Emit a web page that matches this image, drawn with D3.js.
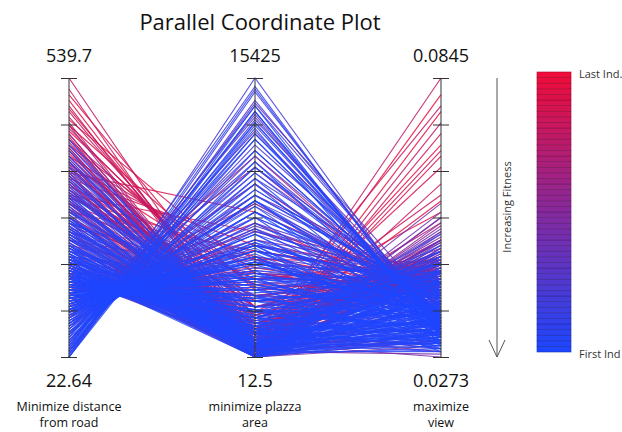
<!DOCTYPE html>
<html><head><meta charset="utf-8">
<script src="https://cdn.jsdelivr.net/npm/d3@7"></script>
<style>body{margin:0;background:#fff}svg{display:block}text{font-family:"Open Sans","Noto Sans",sans-serif}</style>
</head><body>
<script>
// ---- data (one entry per individual, first -> last) ----
const distance = [
105.3,115.7,110.5,120.8,126.0,131.2,126.0,136.3,141.5,136.3,
146.7,151.9,146.7,157.0,162.2,157.0,167.4,172.5,167.4,177.7,
182.9,177.7,188.0,193.2,198.4,203.6,208.7,213.9,219.1,229.4,
110.5,115.7,120.8,131.2,141.5,151.9,162.2,172.5,182.9,193.2,
22.6,27.8,22.6,33.0,33.0,38.1,43.3,43.3,48.5,53.6,
53.6,58.8,64.0,64.0,69.1,69.1,74.3,79.5,79.5,84.6,
84.6,89.8,89.8,95.0,100.2,100.2,105.3,105.3,110.5,110.5,
115.7,115.7,120.8,120.8,126.0,126.0,131.2,131.2,136.3,136.3,
141.5,141.5,146.7,146.7,151.9,151.9,157.0,157.0,162.2,162.2,
167.4,167.4,172.5,172.5,177.7,177.7,182.9,182.9,188.0,188.0,
193.2,198.4,198.4,203.6,208.7,208.7,213.9,219.1,224.2,229.4,
234.6,239.7,244.9,250.1,255.3,260.4,265.6,270.8,275.9,281.1,
291.4,301.8,312.1,322.5,332.8,343.1,353.5,363.8,374.2,384.5,
394.8,405.2,415.5,425.9,177.7,167.4,157.0,146.7,136.3,126.0,
115.7,105.3,95.0,84.6,193.2,203.6,213.9,229.4,244.9,260.4,
275.9,291.4,307.0,322.5,182.9,162.2,151.9,141.5,131.2,120.8,
198.4,219.1,239.7,255.3,270.8,208.7,172.5,224.2,250.1,281.1,
234.6,265.6,296.6,219.1,250.1,203.6,317.3,188.0,332.8,162.2,
188.0,198.4,208.7,219.1,229.4,239.7,250.1,260.4,270.8,281.1,
193.2,203.6,213.9,224.2,234.6,244.9,255.3,265.6,275.9,286.3,
296.6,307.0,317.3,327.6,338.0,348.3,358.7,369.0,379.3,389.7,
22.6,22.6,27.8,22.6,33.0,27.8,38.1,43.3,48.5,53.6,
38.1,58.8,64.0,69.1,74.3,74.3,79.5,84.6,89.8,95.0,
95.0,100.2,105.3,110.5,110.5,115.7,120.8,126.0,126.0,131.2,
136.3,136.3,141.5,146.7,146.7,151.9,151.9,157.0,157.0,162.2,
162.2,167.4,167.4,172.5,172.5,177.7,177.7,182.9,182.9,188.0,
188.0,193.2,193.2,198.4,203.6,208.7,213.9,219.1,224.2,229.4,
33.0,48.5,64.0,79.5,100.2,115.7,131.2,141.5,157.0,167.4,
177.7,193.2,203.6,213.9,
84.6,120.8,146.7,162.2,188.0,224.2,250.1,270.8,301.8,317.3,338.0,353.5,
198.4,229.4,255.3,182.9,281.1,172.5,239.7,208.7,
234.6,239.7,244.9,250.1,255.3,260.4,265.6,270.8,281.1,286.3,
291.4,296.6,307.0,312.1,322.5,327.6,332.8,343.1,348.3,358.7,
363.8,374.2,384.5,394.8,405.2,410.4,436.2,425.9,451.7,415.5,
126.0,203.6,255.3,167.4,307.0,229.4,105.3,332.8,151.9,270.8,
193.2,358.7,136.3,291.4,219.1,384.5,177.7,250.1,322.5,115.7,
157.0,343.1,208.7,281.1,239.7,374.2,95.0,307.0,188.0,394.8,
260.4,146.7,317.3,229.4,363.8,172.5,296.6,410.4,198.4,338.0,
539.7,518.9,487.9,477.6,467.2,456.9,446.5,436.2,425.9,420.7,
415.5,405.2,394.8,384.5,374.2,369.0,363.8,353.5,348.3,343.1,
332.8,322.5,312.1,307.0,301.8,291.4,281.1,462.1,482.7,498.2,
508.6,451.7,431.0,400.0,379.3,358.7,327.6,317.3,441.4,389.7
];
const plazaArea = [
6177,5868,5560,5406,5098,4790,4636,4327,4173,3865,
3711,3403,3249,3095,2786,2632,2324,2170,1862,1708,
1553,1245,1091,937,783,629,1245,475,937,629,
6793,6330,6022,5252,4481,4019,3249,2478,2016,1399,
13881,14806,12956,13573,12340,12648,12956,11416,10800,12032,
10491,9875,10183,9259,9567,8642,8950,8026,8642,7718,
8334,7409,8026,6947,6793,6330,6485,5868,5714,6177,
5252,5560,4790,5252,4327,4944,4019,4481,3557,3865,
3095,3711,2632,3095,2170,2632,1708,2170,1245,1708,
937,1399,629,1245,320,783,12,629,475,12,
320,166,629,320,12,475,166,320,12,166,
12,475,12,320,166,12,320,166,12,475,
629,12,937,320,1245,166,783,12,475,937,
320,12,629,166,1553,2170,2786,3403,4327,5252,
6177,7101,7718,8642,1245,1862,937,1553,783,1245,
1862,2478,1553,2170,2786,3711,4019,4636,5560,5868,
2478,3095,2786,3403,4019,4327,3095,2170,1862,937,
629,937,320,1245,12,783,629,1862,12,1553,
166,475,12,783,320,1091,166,629,1399,12,
937,1399,320,1708,12,783,2016,475,1245,166,
1553,629,12,937,320,1245,166,783,12,475,
15425,14652,14190,13573,13111,12803,14960,13881,12340,11724,
12032,13265,11108,10491,11416,9875,9259,10800,8642,9567,
8026,7409,8950,6793,8334,6177,7255,5560,7718,5098,
6485,4327,5868,3711,5252,3095,4636,2478,4019,1862,
3403,1399,2786,937,2170,475,1708,320,1245,166,
937,629,12,320,783,166,475,12,1091,320,
14035,13419,12494,10183,8488,7101,5868,4790,3249,2016,
1091,320,12,783,
8950,6485,4173,2478,629,166,475,12,937,320,1399,629,
12,320,783,166,1245,475,12,1553,
629,1553,166,937,475,1862,12,1245,320,783,
2170,166,1399,475,12,1708,629,1091,166,2016,
320,937,12,1399,475,166,320,783,12,1245,
6947,3095,2324,5406,2786,3865,9567,1553,6177,3403,
4636,783,8488,1862,2786,1245,4327,1553,3095,10491,
4944,2324,3711,629,4636,1862,11108,320,3403,937,
5406,7409,4327,1245,2786,5868,4019,475,2170,4944,
320,12,629,1245,1862,166,2324,475,3095,783,
3865,1553,4636,12,5406,2170,8026,6177,2786,937,
3403,6947,1553,4327,320,5868,2478,4636,1553,937,
2170,3711,12,1245,4019,629,1862,5560,2786,320
];
const view = [
0.0307,0.0342,0.0296,0.0324,0.0359,0.0290,0.0336,0.0313,0.0353,0.0284,
0.0330,0.0302,0.0347,0.0319,0.0365,0.0290,0.0336,0.0307,0.0376,0.0324,
0.0296,0.0347,0.0387,0.0313,0.0359,0.0330,0.0410,0.0342,0.0370,0.0399,
0.0330,0.0353,0.0302,0.0376,0.0393,0.0370,0.0405,0.0382,0.0416,0.0427,
0.0302,0.0319,0.0330,0.0313,0.0342,0.0296,0.0336,0.0353,0.0324,0.0347,
0.0365,0.0330,0.0359,0.0382,0.0319,0.0347,0.0393,0.0336,0.0370,0.0405,
0.0324,0.0353,0.0387,0.0416,0.0342,0.0399,0.0365,0.0427,0.0330,0.0410,
0.0376,0.0313,0.0422,0.0359,0.0393,0.0445,0.0342,0.0410,0.0433,0.0370,
0.0399,0.0462,0.0353,0.0427,0.0450,0.0330,0.0416,0.0479,0.0307,0.0439,
0.0467,0.0342,0.0410,0.0502,0.0319,0.0445,0.0382,0.0302,0.0490,0.0359,
0.0433,0.0324,0.0473,0.0296,0.0450,0.0370,0.0290,0.0422,0.0336,0.0479,
0.0313,0.0399,0.0456,0.0284,0.0353,0.0427,0.0302,0.0376,0.0405,0.0324,
0.0353,0.0399,0.0330,0.0433,0.0365,0.0410,0.0342,0.0445,0.0376,0.0319,
0.0422,0.0387,0.0353,0.0456,0.0342,0.0319,0.0365,0.0307,0.0330,0.0353,
0.0324,0.0342,0.0313,0.0336,0.0359,0.0324,0.0393,0.0347,0.0324,0.0410,
0.0370,0.0336,0.0422,0.0382,0.0399,0.0370,0.0336,0.0382,0.0342,0.0370,
0.0445,0.0353,0.0422,0.0387,0.0342,0.0405,0.0422,0.0467,0.0490,0.0525,
0.0302,0.0290,0.0307,0.0296,0.0324,0.0284,0.0313,0.0302,0.0342,0.0290,
0.0319,0.0342,0.0365,0.0307,0.0382,0.0330,0.0353,0.0393,0.0313,0.0370,
0.0336,0.0296,0.0347,0.0376,0.0324,0.0405,0.0359,0.0302,0.0387,0.0342,
0.0365,0.0319,0.0399,0.0347,0.0376,0.0330,0.0416,0.0353,0.0307,0.0382,
0.0319,0.0330,0.0342,0.0324,0.0353,0.0336,0.0313,0.0347,0.0359,0.0370,
0.0342,0.0330,0.0365,0.0387,0.0353,0.0399,0.0382,0.0359,0.0410,0.0376,
0.0393,0.0422,0.0387,0.0405,0.0382,0.0433,0.0416,0.0427,0.0399,0.0445,
0.0410,0.0439,0.0422,0.0450,0.0433,0.0462,0.0427,0.0445,0.0456,0.0467,
0.0439,0.0479,0.0450,0.0462,0.0490,0.0473,0.0445,0.0502,0.0467,0.0485,
0.0439,0.0513,0.0456,0.0479,0.0450,0.0525,0.0433,0.0496,0.0462,0.0536,
0.0365,0.0324,0.0342,0.0376,0.0370,0.0393,0.0416,0.0405,0.0473,0.0433,
0.0508,0.0416,0.0559,0.0479,
0.0422,0.0445,0.0399,0.0496,0.0530,0.0570,0.0588,0.0462,0.0490,0.0445,0.0410,0.0513,
0.0296,0.0279,0.0273,0.0313,0.0284,0.0330,0.0307,0.0290,
0.0473,0.0445,0.0508,0.0427,0.0490,0.0416,0.0548,0.0456,0.0479,0.0519,
0.0422,0.0445,0.0467,0.0502,0.0530,0.0439,0.0485,0.0462,0.0559,0.0427,
0.0496,0.0450,0.0513,0.0473,0.0433,0.0542,0.0490,0.0445,0.0467,0.0513,
0.0445,0.0433,0.0467,0.0399,0.0422,0.0422,0.0365,0.0462,0.0410,0.0450,
0.0427,0.0473,0.0387,0.0445,0.0479,0.0410,0.0462,0.0490,0.0445,0.0353,
0.0416,0.0473,0.0416,0.0513,0.0393,0.0439,0.0347,0.0433,0.0427,0.0467,
0.0376,0.0382,0.0427,0.0548,0.0456,0.0433,0.0410,0.0479,0.0445,0.0399,
0.0845,0.0753,0.0445,0.0788,0.0410,0.0628,0.0433,0.0696,0.0387,0.0422,
0.0376,0.0605,0.0399,0.0731,0.0467,0.0445,0.0399,0.0445,0.0410,0.0662,
0.0382,0.0422,0.0456,0.0473,0.0685,0.0433,0.0570,0.0393,0.0427,0.0593,
0.0479,0.0445,0.0776,0.0450,0.0405,0.0708,0.0439,0.0410,0.0416,0.0811
];
const axisNames = [["Minimize distance","from road"],["minimize plazza","area"],["maximize","view"]];
const topLabels = ["539.7","15425","0.0845"];
const bottomLabels = ["22.64","12.5","0.0273"];
const domains = [[22.64,539.7],[12.5,15425],[0.0273,0.0845]];
const legendLabels = ["Last Ind.","First Ind"];

// ---- drawing ----
const W = 622, H = 432;
const BLUE = "#1e46ff", RED = "#ee0c3a";
const svg = d3.select("body").append("svg").attr("width", W).attr("height", H);
const x = d3.scalePoint().domain([0,1,2]).range([69, 441]);
const y = domains.map(d => d3.scaleLinear().domain(d).range([357, 78]));
const N = Math.min(distance.length, plazaArea.length, view.length);
const rows = d3.range(N).map(i => [distance[i], plazaArea[i], view[i]]);
const color = d3.scalePow().exponent(2.5).domain([0, N - 1]).range([BLUE, RED]).interpolate(d3.interpolateRgb);
const line = d3.line();

svg.append("g").selectAll("path").data(d3.range(N).reverse()).join("path")
  .attr("d", i => line(rows[i].map((v, k) => [x(k), y[k](v)])))
  .attr("fill", "none").attr("stroke", i => color(i))
  .attr("stroke-width", 1.15).attr("stroke-opacity", 0.85);

// axes
domains.forEach((d, k) => {
  const tv = d3.range(7).map(j => d[0] + j * (d[1] - d[0]) / 6);
  const g = svg.append("g").attr("transform", `translate(${x(k) + 8},0)`)
    .call(d3.axisLeft(y[k]).tickValues(tv).tickSize(16).tickFormat(""));
  g.select(".domain").remove();
  g.selectAll(".tick line").attr("stroke", "#333").attr("stroke-width", 1);
  svg.append("line").attr("x1", x(k)).attr("x2", x(k)).attr("y1", y[k](d[0])).attr("y2", y[k](d[1]))
    .attr("stroke", "#333").attr("stroke-width", 1);
  svg.append("text").attr("x", x(k)).attr("y", 62).attr("text-anchor", "middle")
    .attr("font-size", 18).attr("fill", "#111").text(topLabels[k]);
  svg.append("text").attr("x", x(k)).attr("y", 387).attr("text-anchor", "middle")
    .attr("font-size", 18).attr("fill", "#111").text(bottomLabels[k]);
  axisNames[k].forEach((s, j) => {
    svg.append("text").attr("x", x(k)).attr("y", 411 + j * 16).attr("text-anchor", "middle")
      .attr("font-size", 12.5).attr("fill", "#111").text(s);
  });
});

// title
svg.append("text").attr("x", 260).attr("y", 30).attr("text-anchor", "middle")
  .attr("font-size", 22).attr("fill", "#111").text("Parallel Coordinate Plot");

// legend
const nb = 50;
const ly = d3.scaleBand().domain(d3.range(nb)).range([352, 72]);
svg.append("g").selectAll("rect").data(d3.range(nb)).join("rect")
  .attr("x", 537).attr("width", 34).attr("y", j => ly(j)).attr("height", ly.bandwidth())
  .attr("fill", j => d3.interpolateRgb(BLUE, RED)(j / (nb - 1)))
  .attr("stroke", j => d3.color(d3.interpolateRgb(BLUE, RED)(j / (nb - 1))).darker(0.9))
  .attr("stroke-width", 0.6);
svg.append("text").attr("x", 579).attr("y", 78).attr("font-size", 11).attr("fill", "#333").text(legendLabels[0]);
svg.append("text").attr("x", 579).attr("y", 358).attr("font-size", 11).attr("fill", "#333").text(legendLabels[1]);

// fitness arrow
svg.append("line").attr("x1", 497).attr("x2", 497).attr("y1", 78).attr("y2", 357).attr("stroke", "#555");
svg.append("path").attr("d", "M489,340L497,357L505,340").attr("fill", "none").attr("stroke", "#555");
svg.append("text").attr("transform", "translate(511,207) rotate(-90)").attr("text-anchor", "middle")
  .attr("font-size", 11).attr("fill", "#333").text("Increasing Fitness");
</script>
</body></html>
